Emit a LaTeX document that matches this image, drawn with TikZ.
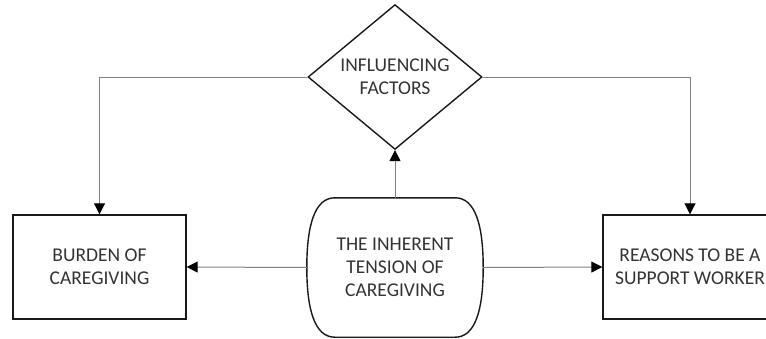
\documentclass[tikz,border=0pt]{standalone}
\usepackage{fontspec}
\setmainfont{Carlito}
\usetikzlibrary{shapes.geometric,arrows.meta}
\begin{document}
\begin{tikzpicture}[x=1pt,y=-1pt,
  txt/.style={font=\fontsize{19.5}{23}\selectfont, text=black!80, align=center},
  box/.style={txt, draw=black!90, line width=1.4pt, rectangle, minimum width=173pt, minimum height=104pt, inner sep=0pt},
  dia/.style={txt, draw=black!90, line width=1.4pt, diamond, minimum width=174pt, minimum height=138pt, inner sep=0pt},
  conn/.style={draw=black!50, line width=1pt, -{Triangle[length=11pt,width=11pt,black]}},
  plain/.style={draw=black!50, line width=1pt}]
\useasboundingbox (0,0) rectangle (766,338);
\clip (0,0) rectangle (766,338);
\node[box] (burden) at (99.5,267) {BURDEN OF\\CAREGIVING};
\node[box, minimum width=174pt] (reasons) at (690,267) {REASONS TO BE A\\SUPPORT WORKER};
\node[dia] (infl) at (395,77) {INFLUENCING\\FACTORS};
\node[txt, minimum width=176pt, minimum height=139pt, inner sep=0pt] (tension) at (395,267.5) {THE INHERENT\\TENSION OF\\CAREGIVING};
\draw[black!90, line width=1.4pt]
  ([xshift=28pt]tension.north west) -- ([xshift=-28pt]tension.north east)
  .. controls ([xshift=-8pt]tension.north east) and (tension.east |- 0,225) .. (tension.east)
  .. controls (tension.east |- 0,310) and ([xshift=-8pt]tension.south east) .. ([xshift=-28pt]tension.south east)
  -- ([xshift=28pt]tension.south west)
  .. controls ([xshift=8pt]tension.south west) and (tension.west |- 0,310) .. (tension.west)
  .. controls (tension.west |- 0,225) and ([xshift=8pt]tension.north west) .. ([xshift=28pt]tension.north west) -- cycle;
\draw[conn] (tension.west) -- (burden.east);
\draw[conn] (tension.east) -- (reasons.west);
\draw[conn] (tension.north) -- (infl.south);
\draw[conn] (infl.west) -| (burden.north);
\draw[conn] (infl.east) -| (reasons.north);
\end{tikzpicture}
\end{document}
